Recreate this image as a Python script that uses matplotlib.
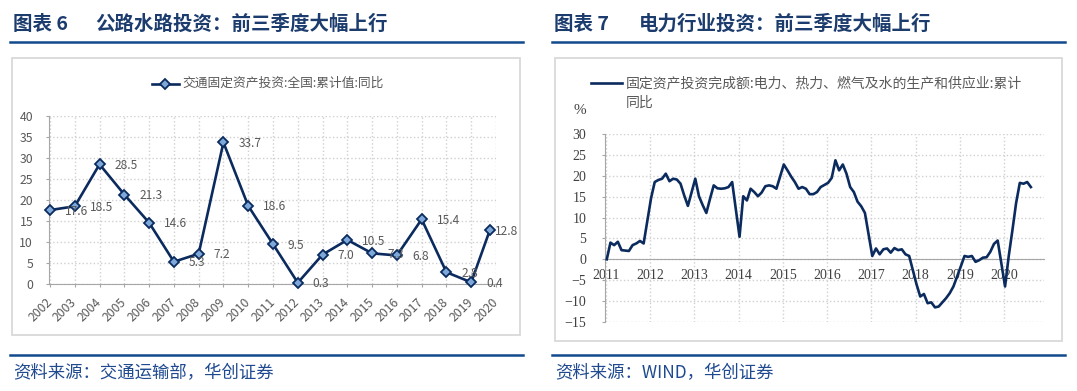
import matplotlib
matplotlib.use("Agg")
import matplotlib.pyplot as plt
from matplotlib.lines import Line2D
from matplotlib.patches import Rectangle

plt.rcParams['font.family'] = ['Noto Sans CJK SC', 'DejaVu Sans']
plt.rcParams['axes.unicode_minus'] = True

# ---------------- data: left chart (交通固定资产投资 累计同比, %) ----------------
road_years = ['2002', '2003', '2004', '2005', '2006', '2007', '2008', '2009', '2010',
              '2011', '2012', '2013', '2014', '2015', '2016', '2017', '2018', '2019', '2020']
road_yoy = [17.6, 18.5, 28.5, 21.3, 14.6, 5.3, 7.2, 33.7, 18.6,
            9.5, 0.3, 7.0, 10.5, 7.3, 6.8, 15.4, 2.8, 0.4, 12.8]
road_end_month = [12] * 18 + [9]          # 2020: first three quarters

# ---------------- data: right chart (电力等行业固定资产投资 累计同比, %) ----------------
# cumulative values Feb..Dec of each year (2020: Feb..Sep)
power_2011 = [0.0, 4.0, 3.4, 4.2, 2.2, 2.1, 2.0, 3.4, 3.8, 4.4, 3.8]
power_2012 = [14.6, 18.5, 19.0, 19.3, 20.5, 18.7, 19.3, 19.1, 18.1, 15.3, 12.8]
power_2013 = [19.3, 15.1, 13.0, 11.1, 14.5, 17.7, 17.0, 16.9, 17.0, 17.3, 18.5]
power_2014 = [5.4, 15.1, 14.1, 16.9, 16.1, 15.1, 16.0, 17.5, 17.7, 17.5, 16.9]
power_2015 = [22.7, 21.3, 19.8, 18.5, 16.9, 17.3, 16.9, 15.6, 15.6, 16.1, 17.3]
power_2016 = [18.3, 19.5, 23.7, 21.3, 22.7, 20.5, 17.3, 16.1, 13.8, 12.7, 11.1]
power_2017 = [0.8, 2.6, 1.2, 2.4, 2.6, 1.6, 2.7, 2.2, 2.4, 1.2, 0.8]
power_2018 = [-6.0, -8.9, -8.3, -10.5, -10.3, -11.5, -11.3, -10.3, -9.3, -8.1, -6.5]
power_2019 = [-1.7, 0.8, 0.6, 0.8, -0.6, -0.2, 0.4, 0.5, 1.8, 3.7, 4.5]
power_2020 = [-6.5, 0.8, 7.0, 13.5, 18.3, 18.1, 18.5, 17.3]
power_years = [2011, 2012, 2013, 2014, 2015, 2016, 2017, 2018, 2019, 2020]
power_series = [power_2011, power_2012, power_2013, power_2014, power_2015,
                power_2016, power_2017, power_2018, power_2019, power_2020]

# ---------------- styling ----------------
W, H = 1077, 391
NAVY = '#0B2B5E'
TITLE_C = '#1C3C6E'
RULE_C = '#114A8C'
SRC_C = '#1F4A90'
GRAY_T = '#595959'
GRID_C = '#D0D0D0'
AX_C = '#A6A6A6'


def fx(px):
    return px / W


def fy(py):
    return 1 - py / H


fig = plt.figure(figsize=(W / 100, H / 100), dpi=100)

# ---------------- frame elements ----------------
for x0, num, rest, xr in [(13, '图表 6', '公路水路投资：前三季度大幅上行', 95),
                          (554, '图表 7', '电力行业投资：前三季度大幅上行', 639)]:
    fig.text(fx(x0), fy(24), num, fontsize=14, fontweight='bold', color=TITLE_C,
             va='center', ha='left')
    fig.text(fx(xr), fy(24), rest, fontsize=14, fontweight='bold', color=TITLE_C,
             va='center', ha='left')

for (a, b) in [(10, 523), (552, 1065)]:
    for y in (42, 355):
        fig.add_artist(Line2D([fx(a), fx(b)], [fy(y), fy(y)], lw=1.8, color=RULE_C,
                              transform=fig.transFigure))

fig.add_artist(Rectangle((fx(12), fy(335)), fx(520) - fx(12), fy(58) - fy(335),
                         fill=False, ec='#D9D9D9', lw=1.3, transform=fig.transFigure))
fig.add_artist(Rectangle((fx(555), fy(341)), fx(1062) - fx(555), fy(58) - fy(341),
                         fill=False, ec='#D9D9D9', lw=1.3, transform=fig.transFigure))

fig.text(fx(13), fy(373), '资料来源：交通运输部，华创证券', fontsize=12.5, color=SRC_C,
         va='center', ha='left', style='italic')
fig.text(fx(555), fy(373), '资料来源：WIND，华创证券', fontsize=12.5, color=SRC_C,
         va='center', ha='left', style='italic')

# ---------------- left chart ----------------
ax1 = fig.add_axes([fx(49), fy(284), fx(496) - fx(49), fy(116) - fy(284)])
road_x = [i + (m - 12) / 12 for i, m in enumerate(road_end_month)]
ax1.plot(road_x, road_yoy, color=NAVY, lw=1.9, marker='D', ms=4.6,
         mfc='#7FA8DA', mec=NAVY, mew=1.3, zorder=3, clip_on=False)
ax1.set_xlim(-0.04, 18)
ax1.set_ylim(0, 40)
ax1.set_xticks(range(len(road_years)))
ax1.set_xticklabels(road_years, rotation=45, ha='right', va='center',
                    rotation_mode='anchor')
ax1.set_yticks(range(0, 41, 5))
ax1.tick_params(axis='x', length=2.5, pad=9, colors=AX_C, labelcolor=GRAY_T, labelsize=8.8)
ax1.tick_params(axis='y', length=2.5, pad=9, colors=AX_C, labelcolor=GRAY_T, labelsize=8.8)
ax1.grid(True, ls=':', color=GRID_C, lw=1)
ax1.set_axisbelow(True)
for s in ('top', 'right'):
    ax1.spines[s].set_visible(False)
for s in ('left', 'bottom'):
    ax1.spines[s].set_color(AX_C)
n = len(road_yoy)
for i, (x, v) in enumerate(zip(road_x, road_yoy)):
    dx = 10.8 if i < n - 1 else 4
    ax1.annotate(f'{v:.1f}', (x, v), xytext=(dx, -0.8), textcoords='offset points',
                 ha='left', va='center', fontsize=8.6, color=GRAY_T, zorder=4)

# left legend
fig.add_artist(Line2D([fx(151.5), fx(179)], [fy(83.5), fy(83.5)], lw=1.9, color=NAVY,
                      transform=fig.transFigure))
fig.add_artist(Line2D([fx(165)], [fy(83.5)], marker='D', ms=4.6, mfc='#7FA8DA', mec=NAVY,
                      mew=1.3, transform=fig.transFigure))
fig.text(fx(182.5), fy(83.5), '交通固定资产投资:全国:累计值:同比', fontsize=9.2,
         color=GRAY_T, va='center', ha='left')

# ---------------- right chart ----------------
ax2 = fig.add_axes([fx(605), fy(322), fx(1044) - fx(605), fy(134) - fy(322)])
px, pv = [], []
for yr, vals in zip(power_years, power_series):
    for k, v in enumerate(vals):
        px.append(yr + k / 12 + 0.02)
        pv.append(v)
ax2.plot(px, pv, color=NAVY, lw=1.9, zorder=3)
ax2.set_xlim(2010.98, 2020.9)
ax2.set_ylim(-15, 30)
ax2.set_xticks(power_years)
ax2.set_xticklabels([str(y) for y in power_years])
ax2.set_yticks(range(-15, 31, 5))
ax2.spines['bottom'].set_position(('data', 0))
ax2.spines['bottom'].set_color(AX_C)
ax2.spines['left'].set_color(AX_C)
for s in ('top', 'right'):
    ax2.spines[s].set_visible(False)
ax2.grid(True, ls=':', color=GRID_C, lw=1)
ax2.set_axisbelow(True)
serif = ['Liberation Serif', 'DejaVu Serif']
ax2.tick_params(axis='x', length=0, pad=7, labelcolor='#404040', labelsize=10)
ax2.tick_params(axis='y', length=2.5, pad=11, colors=AX_C, labelcolor='#404040',
                labelsize=10)
for lab in ax2.get_xticklabels() + ax2.get_yticklabels():
    lab.set_fontfamily(serif)

fig.text(fx(580), fy(110), '%', fontsize=11, color='#404040', va='center', ha='center',
         fontfamily=serif)

# right legend
fig.add_artist(Line2D([fx(590.7), fx(622)], [fy(83), fy(83)], lw=1.9, color=NAVY,
                      transform=fig.transFigure))
fig.text(fx(625.6), fy(83), '固定资产投资完成额:电力、热力、燃气及水的生产和供应业:累计',
         fontsize=10, color=GRAY_T, va='center', ha='left')
fig.text(fx(625.6), fy(103), '同比', fontsize=10, color=GRAY_T, va='center', ha='left')

fig.savefig('out.png', dpi=100)
